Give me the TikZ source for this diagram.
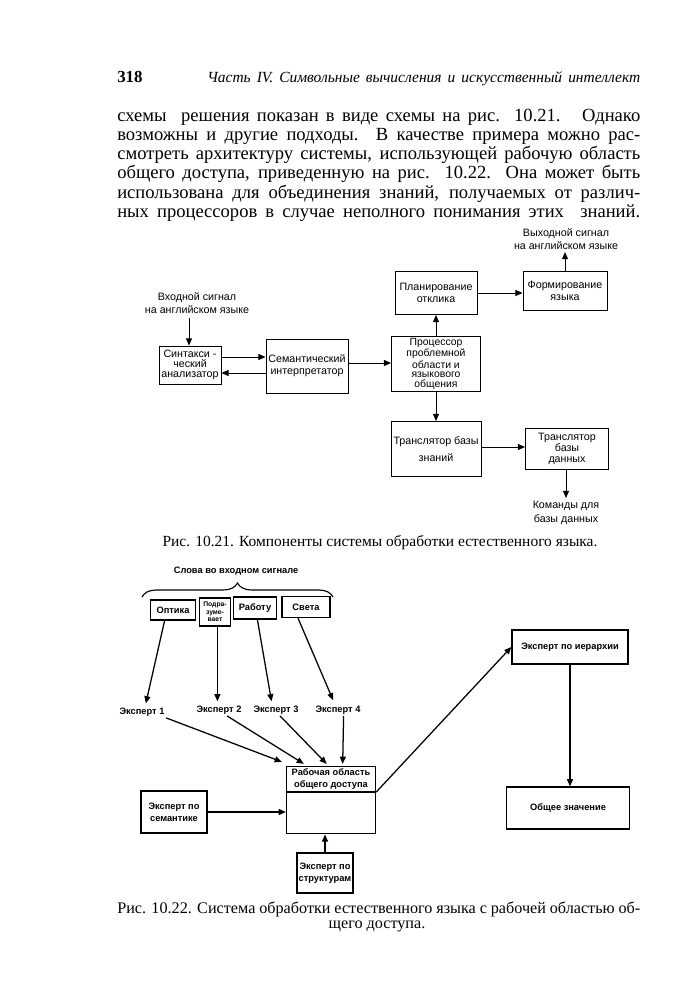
\documentclass[tikz,border=0pt]{standalone}
\usepackage{fontspec}
\setmainfont{Liberation Serif}
\setsansfont{Liberation Sans}
\usepackage{tikz}
\usetikzlibrary{arrows.meta,calc,decorations.pathreplacing}
\newlength{\pxu}
\setlength{\pxu}{0.025cm}
\tikzset{
  blk/.style={draw, line width=0.6pt, inner sep=1pt, align=center,
    font=\sffamily\fontsize{7.6}{8.5}\selectfont},
  xblk/.style={draw, line width=0.9pt, inner sep=1pt, align=center,
    font=\sffamily\bfseries\fontsize{6.6}{8.4}\selectfont},
  boxsize/.style 2 args={minimum width=#1*\pxu, minimum height=#2*\pxu},
  sig/.style={align=center, inner sep=1pt,
    font=\sffamily\fontsize{7.6}{9.5}\selectfont},
  xlbl/.style={inner sep=1pt, font=\sffamily\bfseries\fontsize{6.6}{8}\selectfont},
  link/.style={-{Triangle[length=1.8mm,width=1.5mm]}, line width=0.7pt},
  xlink/.style={-{Triangle[length=1.8mm,width=1.5mm]}, line width=0.9pt},
  bodyline/.style={anchor=base west, inner sep=0pt,
    font=\fontsize{13.2}{15}\selectfont},
  capline/.style={inner sep=0pt, font=\fontsize{11}{13}\selectfont}
}
\begin{document}
\begin{tikzpicture}[x=0.025cm, y=-0.025cm]
  \useasboundingbox (0,0) rectangle (694,1000);

  \node[anchor=base west, inner sep=0pt, font=\bfseries\fontsize{12}{14}\selectfont]
    (pgno) at (117,82) {318};
  \node[anchor=base west, inner sep=0pt, font=\itshape\fontsize{11}{14}\selectfont]
    (head) at (207,82)
    {\makebox[433\pxu][s]{Часть IV. Символьные вычисления и искусственный интеллект}};

  \node[bodyline] (l1) at (117,121)
    {\makebox[523\pxu][s]{схемы \ решения показан в виде схемы на рис. 10.21. \ Однако}};
  \node[bodyline] (l2) at (117,140)
    {\makebox[523\pxu][s]{возможны и другие подходы. В качестве примера можно рас-}};
  \node[bodyline] (l3) at (117,159)
    {\makebox[523\pxu][s]{смотреть архитектуру системы, использующей рабочую область}};
  \node[bodyline] (l4) at (117,178)
    {\makebox[523\pxu][s]{общего доступа, приведенную на рис. 10.22. Она может быть}};
  \node[bodyline] (l5) at (117,198)
    {\makebox[523\pxu][s]{использована для объединения знаний, получаемых от различ-}};
  \node[bodyline] (l6) at (117,217)
    {\makebox[523\pxu][s]{ных процессоров в случае неполного понимания этих \ знаний.}};

  % fig. 10.21
  \node[sig] (outsig) at (566,239) {Выходной сигнал\\на английском языке};
  \coordinate (outtip) at (565,252);
  \node[blk, boxsize={84}{39}] (form) at (565,291) {Формирование\\языка};
  \node[blk, boxsize={82}{43}] (plan) at (436,293) {Планирование\\отклика};
  \node[sig] (insig) at (197,303) {Входной сигнал\\на английском языке};
  \coordinate (intail) at (189,318);
  \node[blk, boxsize={62}{38}, font=\sffamily\fontsize{7.6}{7.2}\selectfont]
    (synt) at (190,365) {Синтакси -\\ческий\\анализатор};
  \node[blk, boxsize={82}{54}] (sem) at (307,366) {Семантический\\интерпретатор};
  \node[blk, boxsize={89}{55}, font=\sffamily\fontsize{7.4}{6.9}\selectfont]
    (proc) at (436,364) {Процессор\\проблемной\\области и\\языкового\\общения};
  \node[blk, boxsize={90}{55}] (kbt) at (436,449) {Транслятор базы\\[4pt]знаний};
  \node[blk, boxsize={83}{41}, font=\sffamily\fontsize{7.6}{7.8}\selectfont]
    (dbt) at (567,449) {Транслятор\\базы\\данных};
  \coordinate (cmdtip) at (566,498);
  \node[sig] (cmd) at (566,513) {Команды для\\базы данных};

  \draw[link] (form.north) -- (outtip);
  \draw[link] (plan.east) -- (plan.east -| form.west);
  \draw[link] (intail) -- (intail |- synt.north);
  \draw[link] (synt.east |- 0,357) -- (sem.west |- 0,357);
  \draw[link] (sem.west |- 0,373) -- (synt.east |- 0,373);
  \draw[link] (sem.east |- 0,363) -- (proc.west |- 0,363);
  \draw[link] (proc.north) -- (plan.south);
  \draw[link] (proc.south) -- (kbt.north);
  \draw[link] (kbt.east |- 0,447) -- (dbt.west |- 0,447);
  \draw[link] (dbt.south -| cmdtip) -- (cmdtip);

  \node[capline] (cap1) at (380,543)
    {Рис. 10.21. Компоненты системы обработки естественного языка.};

  % fig. 10.22
  \node[xlbl] (words) at (236,571) {Слова во входном сигнале};
  \draw[decorate, decoration={brace, amplitude=0.35cm}, line width=0.8pt]
    (142,597) -- (333,597);
  \node[xblk, boxsize={45}{20}] (opt) at (173,610) {Оптика};
  \node[xblk, boxsize={31}{28}, font=\sffamily\bfseries\fontsize{4.8}{5.2}\selectfont]
    (podr) at (215,612) {Подра-\\зуме-\\вает};
  \node[xblk, boxsize={43}{22}] (rab) at (255,608) {Работу};
  \node[xblk, boxsize={48}{21}] (sveta) at (306,607) {Света};

  \node[xlbl] (e1) at (142,712) {Эксперт 1};
  \node[xlbl] (e2) at (219,710) {Эксперт 2};
  \node[xlbl] (e3) at (276,710) {Эксперт 3};
  \node[xlbl] (e4) at (338,710) {Эксперт 4};

  \node[xblk, boxsize={89}{25}] (wstop) at (331,779) {Рабочая область\\общего доступа};
  \node[xblk, boxsize={89}{41}, anchor=north] (wsbot) at (wstop.south) {};
  \node[xblk, boxsize={66}{42}] (sem2) at (174,812) {Эксперт по\\семантике};
  \node[xblk, boxsize={56}{40}] (str) at (325,873) {Эксперт по\\структурам};
  \node[xblk, boxsize={116}{34}] (hier) at (570,647) {Эксперт по иерархии};
  \node[xblk, boxsize={123}{42}] (gen) at (568,808) {Общее значение};

  \draw[xlink, shorten >=2pt] ([xshift=-0.21cm]opt.south) -- ([xshift=0.08cm]e1.north);
  \draw[xlink, shorten >=2pt] ([xshift=0.06cm]podr.south) -- ([xshift=0.06cm]podr.south |- e2.north);
  \draw[xlink, shorten >=2pt] ([xshift=0.06cm]rab.south) -- ([xshift=-0.1cm]e3.north);
  \draw[xlink, shorten >=3pt] ([xshift=-0.2cm]sveta.south) -- ([xshift=-0.08cm]e4.north);

  \draw[xlink] (e1.south east) -- ([xshift=-0.1cm,yshift=0.1cm]wstop.north west);
  \draw[xlink] ([xshift=0.2cm]e2.south) -- ([xshift=0.45cm,yshift=0.05cm]wstop.north west);
  \draw[xlink] ([xshift=0.1cm]e3.south) -- ([xshift=1.02cm,yshift=0.05cm]wstop.north west);
  \draw[xlink] ([xshift=0.14cm]e4.south) -- ([xshift=1.42cm,yshift=0.05cm]wstop.north west);
  \draw[xlink] (sem2.east) -- (sem2.east -| wsbot.west);
  \draw[xlink] (str.north) -- (str.north |- wsbot.south);
  \draw[xlink] (wstop.south east) -- (hier.west);
  \draw[xlink] (hier.south) -- (hier.south |- gen.north);

  \node[capline, anchor=base west, font=\fontsize{11.5}{13}\selectfont] (cap2a) at (117,913)
    {\makebox[523\pxu][s]{Рис. 10.22. Система обработки естественного языка с рабочей областью об-}};
  \node[capline, anchor=base, font=\fontsize{11.5}{13}\selectfont] (cap2b) at (377,928) {щего доступа.};
\end{tikzpicture}
\end{document}
